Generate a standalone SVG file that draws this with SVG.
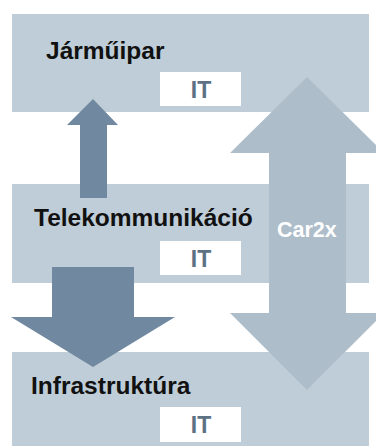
<svg xmlns="http://www.w3.org/2000/svg" width="376" height="446" viewBox="0 0 376 446">
<style>
.band{fill:#bfcdd8}
.itbox{fill:#ffffff}
.lbl{font-family:"Liberation Sans",Arial,sans-serif;font-weight:bold;font-size:24.5px;fill:#111111}
.it{font-family:"Liberation Sans",Arial,sans-serif;font-weight:bold;font-size:23px;fill:#5d7184;text-anchor:middle}
.car{font-family:"Liberation Sans",Arial,sans-serif;font-weight:bold;font-size:21.5px;fill:#ffffff}
.dark{fill:#7089a0}
.light{fill:#adbdca}
</style>
<rect width="376" height="446" fill="#ffffff"/>
<g id="jarmuipar">
<rect class="band" x="12" y="14" width="357" height="98"/>
<text class="lbl" x="46" y="59">Járműipar</text>
<rect class="itbox" x="160" y="72" width="81" height="34"/>
<text class="it" x="201" y="98">IT</text>
</g>
<g id="telekommunikacio">
<rect class="band" x="12" y="184" width="357" height="99"/>
<text class="lbl" x="34" y="226">Telekommunikáció</text>
<rect class="itbox" x="160" y="241" width="81" height="34"/>
<text class="it" x="201" y="267">IT</text>
</g>
<g id="infrastruktura">
<rect class="band" x="12" y="352" width="357" height="94"/>
<text class="lbl" x="31" y="394">Infrastruktúra</text>
<rect class="itbox" x="160" y="407" width="81" height="35"/>
<text class="it" x="201" y="433">IT</text>
</g>
<g id="connectors">
<polygon class="dark" points="93,99 118,125 107,125 107,198 80,198 80,125 67,125"/>
<polygon class="dark" points="52,267 134,267 134,317 175,317 93,367 11,317 52,317"/>
<polygon class="light" points="307,77 384,153 346,153 346,313 384,313 307,390 230,313 269,313 269,153 230,153"/>
<text class="car" x="277" y="237">Car2x</text>
</g>
</svg>
